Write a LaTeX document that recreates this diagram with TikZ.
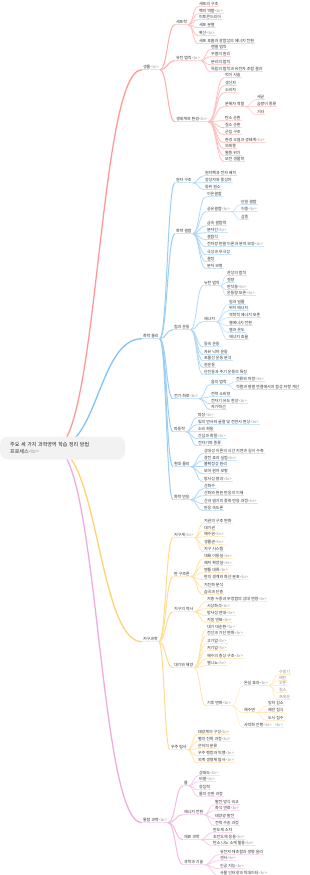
\documentclass[tikz,border=0pt]{standalone}
\usepackage{fontspec}
\setmainfont{Noto Sans CJK KR}
\usetikzlibrary{calc}
\pgfdeclarelayer{bg}
\pgfsetlayers{bg,main}
\definecolor{mmred}{RGB}{255,128,128}
\definecolor{mmblue}{RGB}{100,180,240}
\definecolor{mmyel}{RGB}{255,200,80}
\definecolor{mmpink}{RGB}{236,150,215}
\newcommand\gbr{\textcolor{black!40}{<br>}}
% node with underline: name, colour, x, y, text
\newcommand\mm[5]{\node[mm] (#1) at (#3,#4) {#5};
  \draw[ul=#2] (#1.south west) -- (#1.south east);}
% curved link parent -> child
\newcommand\lnk[3]{\begin{pgfonlayer}{bg}
  \draw[#1] let \p1=(#2.south east), \p2=(#3.south west) in
    (\p1) .. controls ({(\x1+\x2)/2},\y1) and ({(\x1+\x2)/2},\y2) .. (\p2);
  \end{pgfonlayer}}

\begin{document}
\begin{tikzpicture}[x=1pt,y=-1pt,
  mm/.style={anchor=base west,yshift=-1.5pt,inner xsep=.8pt,inner ysep=.7pt,
    font=\fontsize{4}{5}\selectfont,text=black!80},
  ul/.style={draw=#1!32,line width=1.1pt},
  l1/.style={draw=#1!80,line width=1.3pt},
  l2/.style={draw=#1!65,line width=1pt},
  l3/.style={draw=#1!50,line width=.8pt},
  l4/.style={draw=#1!40,line width=.6pt}]
\useasboundingbox (0,0) rectangle (310,875);
% root
\node[anchor=west,fill=black!5,rounded corners=8pt,text width=105pt,inner xsep=10pt,
  minimum height=23pt,align=left,font=\fontsize{5}{7.5}\selectfont,text=black!85] (root) at (0,448)
  {주요 세 가지 과학영역 학습 정리 방법\\프로세스\gbr};
\mm{bio}{mmred}{142}{67}{생물\gbr}
\mm{phy}{mmblue}{142}{336}{화학 물리}
\mm{geo}{mmyel}{142}{639}{지구과학}
\mm{sci}{mmpink}{142}{820}{통합 과학\gbr}
\begin{pgfonlayer}{bg}
\foreach \nm/\cl in {bio/mmred,phy/mmblue,geo/mmyel,sci/mmpink}
  \draw[l1=\cl] let \p1=([xshift=-8pt]root.center), \p2=(\nm.south west) in
    (\p1) .. controls ({(\x1+\x2)/2},\y1) and ({(\x1+\x2)/2},\y2) .. (\p2);
\end{pgfonlayer}

% biology
\mm{bioA}{mmred}{175}{22}{세포학}\lnk{l2=mmred}{bio}{bioA}
\foreach \y/\tx [count=\i] in {4/{세포의 구조},11/{핵의 역할\gbr},17/{미토콘드리아},
    25/{세포 분열},33/{확산\gbr},41/{세포 호흡과 광합성의 에너지 전환}}
  {\mm{bioA-\i}{mmred}{198}{\y}{\tx}\lnk{l3=mmred}{bioA}{bioA-\i}}
\mm{bioB}{mmred}{175}{58}{유전 법칙\gbr}\lnk{l2=mmred}{bio}{bioB}
\foreach \y/\tx [count=\i] in {47/{멘델 법칙},54/{우열의 원리},62/{분리의 법칙},
    69/{독립의 법칙과 유전자 조합 결과}}
  {\mm{bioB-\i}{mmred}{210}{\y}{\tx}\lnk{l3=mmred}{bioB}{bioB-\i}}
\mm{bioC}{mmred}{175}{119}{생태계와 환경\gbr}\lnk{l2=mmred}{bio}{bioC}
\foreach \y/\tx [count=\i] in {75/{먹이 사슬},83/{생산자},90/{소비자},104/{분해자 역할},
    118/{탄소 순환},125/{질소 순환},132/{군집 구조},140/{환경 오염과 생태계\gbr},
    146/{외래종},153/{멸종 위기},159/{보전 생물학}}
  {\mm{bioC-\i}{mmred}{224}{\y}{\tx}\lnk{l3=mmred}{bioC}{bioC-\i}}
\foreach \y/\tx [count=\i] in {97/{세균},104/{곰팡이 종류},112/{기타}}
  {\mm{bioC-4-\i}{mmred}{256}{\y}{\tx}\lnk{l4=mmred}{bioC-4}{bioC-4-\i}}

% chemistry, physics
\mm{phyA}{mmblue}{175}{180}{원자 구조}\lnk{l2=mmblue}{phy}{phyA}
\foreach \y/\tx [count=\i] in {173/{원자핵과 전자 배치},180/{양성자와 중성자},187/{동위 원소}}
  {\mm{phyA-\i}{mmblue}{204}{\y}{\tx}\lnk{l3=mmblue}{phyA}{phyA-\i}}
\mm{phyB}{mmblue}{175}{231}{화학 결합}\lnk{l2=mmblue}{phy}{phyB}
\foreach \y/\tx [count=\i] in {194/{이온결합},209/{공유결합\gbr},223/{금속 결합력},
    230/{분자간\gbr},237/{결합각},244/{전자쌍 반발 이론과 분자 모양\gbr},
    252/{극성과 무극성},259/{결정},266/{분자 모형}}
  {\mm{phyB-\i}{mmblue}{206}{\y}{\tx}\lnk{l3=mmblue}{phyB}{phyB-\i}}
\foreach \y/\tx [count=\i] in {202/{단일 결합},209/{이중\gbr},217/{삼중}}
  {\mm{phyB-2-\i}{mmblue}{240}{\y}{\tx}\lnk{l4=mmblue}{phyB-2}{phyB-2-\i}}
\mm{phyC}{mmblue}{173}{327}{힘과 운동}\lnk{l2=mmblue}{phy}{phyC}
\foreach \y/\tx [count=\i] in {283/{뉴턴 법칙},319/{에너지},344/{등속 운동},
    352/{자유 낙하 운동},358/{포물선 운동 분석},365/{원운동},372/{단진동과 주기 운동의 특징}}
  {\mm{phyC-\i}{mmblue}{203}{\y}{\tx}\lnk{l3=mmblue}{phyC}{phyC-\i}}
\foreach \y/\tx [count=\i] in {273/{관성의 법칙},280/{질량},287/{반작용\gbr},293/{운동량 보존\gbr}}
  {\mm{phyC-1-\i}{mmblue}{226}{\y}{\tx}\lnk{l4=mmblue}{phyC-1}{phyC-1-\i}}
\foreach \y/\tx [count=\i] in {302/{일과 일률},308/{위치 에너지},315/{역학적 에너지 보존},
    323/{열에너지 전환},330/{열과 온도},337/{에너지 효율}}
  {\mm{phyC-2-\i}{mmblue}{228}{\y}{\tx}\lnk{l4=mmblue}{phyC-2}{phyC-2-\i}}
\mm{phyD}{mmblue}{173}{396}{전기 회로\gbr}\lnk{l2=mmblue}{phy}{phyD}
\foreach \y/\tx [count=\i] in {382/{옴의 법칙},394/{전력 소비량},401/{전자기 유도 현상\gbr},407/{자기력선}}
  {\mm{phyD-\i}{mmblue}{210}{\y}{\tx}\lnk{l3=mmblue}{phyD}{phyD-\i}}
\foreach \y/\tx [count=\i] in {379/{전류와 저항\gbr},387/{직렬과 병렬 연결에서의 합성 저항 계산}}
  {\mm{phyD-1-\i}{mmblue}{235}{\y}{\tx}\lnk{l4=mmblue}{phyD-1}{phyD-1-\i}}
\mm{phyE}{mmblue}{173}{429}{파동학}\lnk{l2=mmblue}{phy}{phyE}
\foreach \y/\tx [count=\i] in {415/{파장\gbr},422/{빛의 반사와 굴절 및 전반사 현상\gbr},
    429/{소리 파동},436/{간섭과 회절\gbr},443/{전자기파 종류}}
  {\mm{phyE-\i}{mmblue}{197}{\y}{\tx}\lnk{l3=mmblue}{phyE}{phyE-\i}}
\mm{phyF}{mmblue}{173}{464}{현대 물리}\lnk{l2=mmblue}{phy}{phyF}
\foreach \y/\tx [count=\i] in {451/{상대성 이론의 시간 지연과 길이 수축},458/{광전 효과 실험\gbr},
    464/{불확정성 원리},471/{보어 원자 모형},479/{방사성 붕괴\gbr}}
  {\mm{phyF-\i}{mmblue}{203}{\y}{\tx}\lnk{l3=mmblue}{phyF}{phyF-\i}}
\mm{phyG}{mmblue}{173}{497}{화학 반응}\lnk{l2=mmblue}{phy}{phyG}
\foreach \y/\tx [count=\i] in {486/{산화수},493/{산화와 환원 반응의 이해},
    501/{산과 염기의 중화 반응 과정\gbr},508/{반응 속도론}}
  {\mm{phyG-\i}{mmblue}{203}{\y}{\tx}\lnk{l3=mmblue}{phyG}{phyG-\i}}

% earth science
\mm{geoA}{mmyel}{173}{535}{지구계\gbr}\lnk{l2=mmyel}{geo}{geoA}
\foreach \y/\tx [count=\i] in {521/{지권의 구조 변화},528/{대기권},534/{해수권\gbr},
    542/{생물권\gbr},549/{지구 시스템}}
  {\mm{geoA-\i}{mmyel}{203}{\y}{\tx}\lnk{l3=mmyel}{geoA}{geoA-\i}}
\mm{geoB}{mmyel}{173}{574}{판 구조론}\lnk{l2=mmyel}{geo}{geoB}
\foreach \y/\tx [count=\i] in {556/{대륙 이동설\gbr},563/{해저 확장설\gbr},570/{맨틀 대류\gbr},
    577/{판의 경계와 화산 분포\gbr},585/{지진파 분석},592/{습곡과 단층}}
  {\mm{geoB-\i}{mmyel}{203}{\y}{\tx}\lnk{l3=mmyel}{geoB}{geoB-\i}}
\mm{geoC}{mmyel}{173}{609}{지구의 역사}\lnk{l2=mmyel}{geo}{geoC}
\foreach \y/\tx [count=\i] in {599/{지층 누중과 부정합의 상대 연령\gbr},606/{시상화석\gbr},
    613/{방사성 연대\gbr},620/{지질 연표\gbr}}
  {\mm{geoC-\i}{mmyel}{206}{\y}{\tx}\lnk{l3=mmyel}{geoC}{geoC-\i}}
\mm{geoD}{mmyel}{173}{665}{대기와 해양}\lnk{l2=mmyel}{geo}{geoD}
\foreach \y/\tx [count=\i] in {627/{대기 대순환\gbr},633/{전선과 기단 변화\gbr},641/{고기압\gbr},
    648/{저기압\gbr},656/{해수의 층상 구조\gbr},663/{엘니뇨\gbr},703/{기후 변화\gbr}}
  {\mm{geoD-\i}{mmyel}{206}{\y}{\tx}\lnk{l3=mmyel}{geoD}{geoD-\i}}
\foreach \y/\tx [count=\i] in {683/{온실 효과\gbr},710/{해수면},725/{사막화 진행\gbr\hspace{3pt}\gbr}}
  {\mm{geoD-7-\i}{mmyel}{243}{\y}{\tx}\lnk{l4=mmyel}{geoD-7}{geoD-7-\i}}
\foreach \y/\tx [count=\i] in {672/{수증기},678/{메탄},683/{오존},690/{질소},697/{프레온}}
  {\mm{geoD-7-1-\i}{mmyel}{278}{\y}{\color{black!45}\tx}\lnk{l4=mmyel}{geoD-7-1}{geoD-7-1-\i}}
\foreach \y/\tx [count=\i] in {703/{빙하 감소},710/{해안 침식},718/{도시 침수}}
  {\mm{geoD-7-2-\i}{mmyel}{267}{\y}{\tx}\lnk{l4=mmyel}{geoD-7-2}{geoD-7-2-\i}}
\mm{geoE}{mmyel}{170}{747}{우주 탐사}\lnk{l2=mmyel}{geo}{geoE}
\foreach \y/\tx [count=\i] in {732/{태양계의 구성\gbr},739/{별의 진화 과정\gbr},746/{은하의 분류},
    753/{우주 팽창과 빅뱅\gbr},760/{외계 생명체 탐사\gbr}}
  {\mm{geoE-\i}{mmyel}{197}{\y}{\tx}\lnk{l3=mmyel}{geoE}{geoE-\i}}

% integrated science
\mm{sciA}{mmpink}{183}{783}{물}\lnk{l2=mmpink}{sci}{sciA}
\foreach \y/\tx [count=\i] in {773/{상태도\gbr},779/{비열\gbr},787/{응집력},794/{물의 순환 과정}}
  {\mm{sciA-\i}{mmpink}{198}{\y}{\tx}\lnk{l3=mmpink}{sciA}{sciA-\i}}
\mm{sciB}{mmpink}{183}{812}{에너지 전환}\lnk{l2=mmpink}{sci}{sciB}
\foreach \y/\tx [count=\i] in {802/{발전 방식 비교},808/{화석 연료\gbr},816/{태양광 발전},823/{전력 수송 과정}}
  {\mm{sciB-\i}{mmpink}{214}{\y}{\tx}\lnk{l3=mmpink}{sciB}{sciB-\i}}
\mm{sciC}{mmpink}{183}{837}{재료 과학}\lnk{l2=mmpink}{sci}{sciC}
\foreach \y/\tx [count=\i] in {830/{반도체 소자},837/{초전도체 응용\gbr},843/{탄소 나노 소재 활용\gbr}}
  {\mm{sciC-\i}{mmpink}{212}{\y}{\tx}\lnk{l3=mmpink}{sciC}{sciC-\i}}
\mm{sciD}{mmpink}{183}{862}{과학과 기술}\lnk{l2=mmpink}{sci}{sciD}
\foreach \y/\tx [count=\i] in {852/{유전자 재조합과 생명 윤리},858/{센서\gbr},866/{인공 지능\gbr},
    873/{사물 인터넷과 빅데이터\gbr}}
  {\mm{sciD-\i}{mmpink}{219}{\y}{\tx}\lnk{l3=mmpink}{sciD}{sciD-\i}}
\end{tikzpicture}
\end{document}
